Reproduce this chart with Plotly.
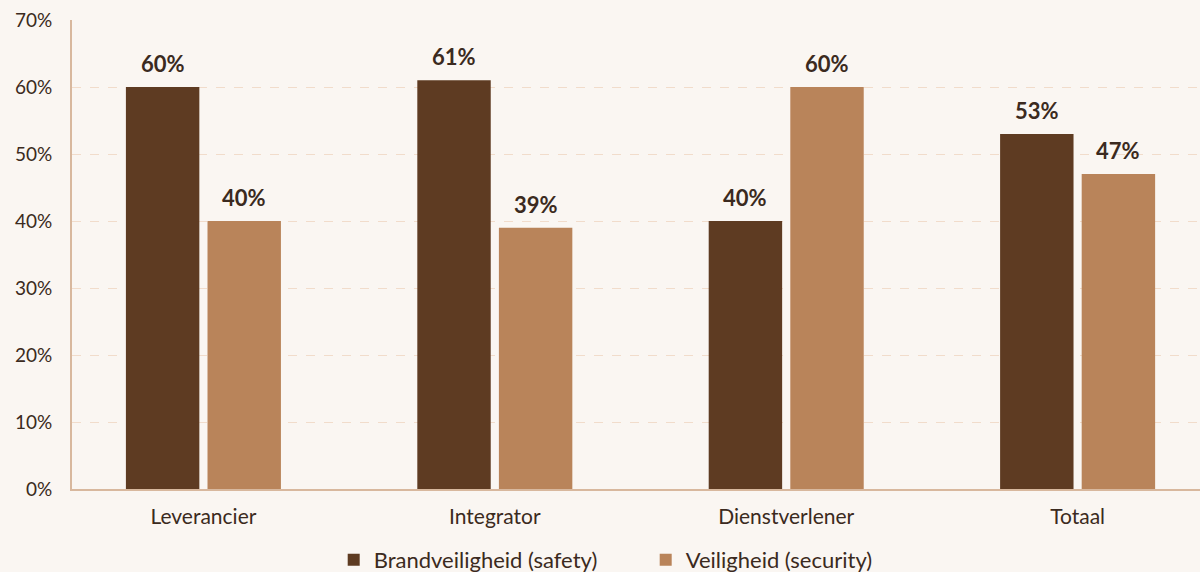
import plotly.graph_objects as go

categories = ["Leverancier", "Integrator", "Dienstverlener", "Totaal"]
safety = [60, 61, 40, 53]
security = [40, 39, 60, 47]
series_names = ["Brandveiligheid (safety)", "Veiligheid (security)"]
y_ticks = [0, 10, 20, 30, 40, 50, 60, 70]
y_tick_labels = [f"{v}%" for v in y_ticks]

dark = "#5e3b22"
light = "#b9845a"
text_col = "#3b2a20"
bg = "#faf6f2"

bargap = 0.44
bargroupgap = 0.1
series = [(series_names[0], safety, dark), (series_names[1], security, light)]
slot = (1 - bargap) / len(series)

fig = go.Figure()
annotations = []
for k, (name, vals, col) in enumerate(series):
    fig.add_trace(go.Bar(
        x=categories, y=vals, name=name,
        marker=dict(color=col, line=dict(width=0)),
    ))
    off = -(1 - bargap) / 2 + slot * (k + 0.5)
    for i, v in enumerate(vals):
        annotations.append(dict(
            x=i + off, y=v, xref="x", yref="y", text=f"{v}%", showarrow=False,
            yanchor="bottom", yshift=8,
            font=dict(family="Lato", size=22, color=text_col, weight="bold"),
        ))

fig.update_layout(
    width=1200, height=572,
    paper_bgcolor=bg, plot_bgcolor=bg,
    margin=dict(l=72, r=0, t=20, b=83),
    barmode="group", bargap=bargap, bargroupgap=bargroupgap,
    font=dict(family="Lato", size=19, color=text_col),
    showlegend=True,
    annotations=annotations,
    legend=dict(orientation="h", x=0.232, xanchor="left",
                yref="container", y=0.021, yanchor="middle",
                font=dict(size=22, color=text_col), entrywidth=267, itemwidth=30,
                bgcolor="rgba(0,0,0,0)"),
    xaxis=dict(range=[-0.451, 3.42], showline=True, linecolor="#d8b89e", linewidth=2,
               showgrid=False, ticks="", ticklabelstandoff=8,
               tickfont=dict(size=21, color=text_col)),
    yaxis=dict(range=[0, 70], tickvals=y_ticks, ticktext=y_tick_labels,
               showline=True, linecolor="#d8b89e", linewidth=2,
               showgrid=True, gridcolor="#f1dccb", griddash="dash", gridwidth=1,
               zeroline=False, ticks="", ticklabelstandoff=14,
               tickfont=dict(size=19, color=text_col)),
)

fig.write_html("out.html", config={"displayModeBar": False},
               post_script="document.body.style.margin='0';document.body.style.background='#faf6f2';document.body.style.overflow='hidden';")
